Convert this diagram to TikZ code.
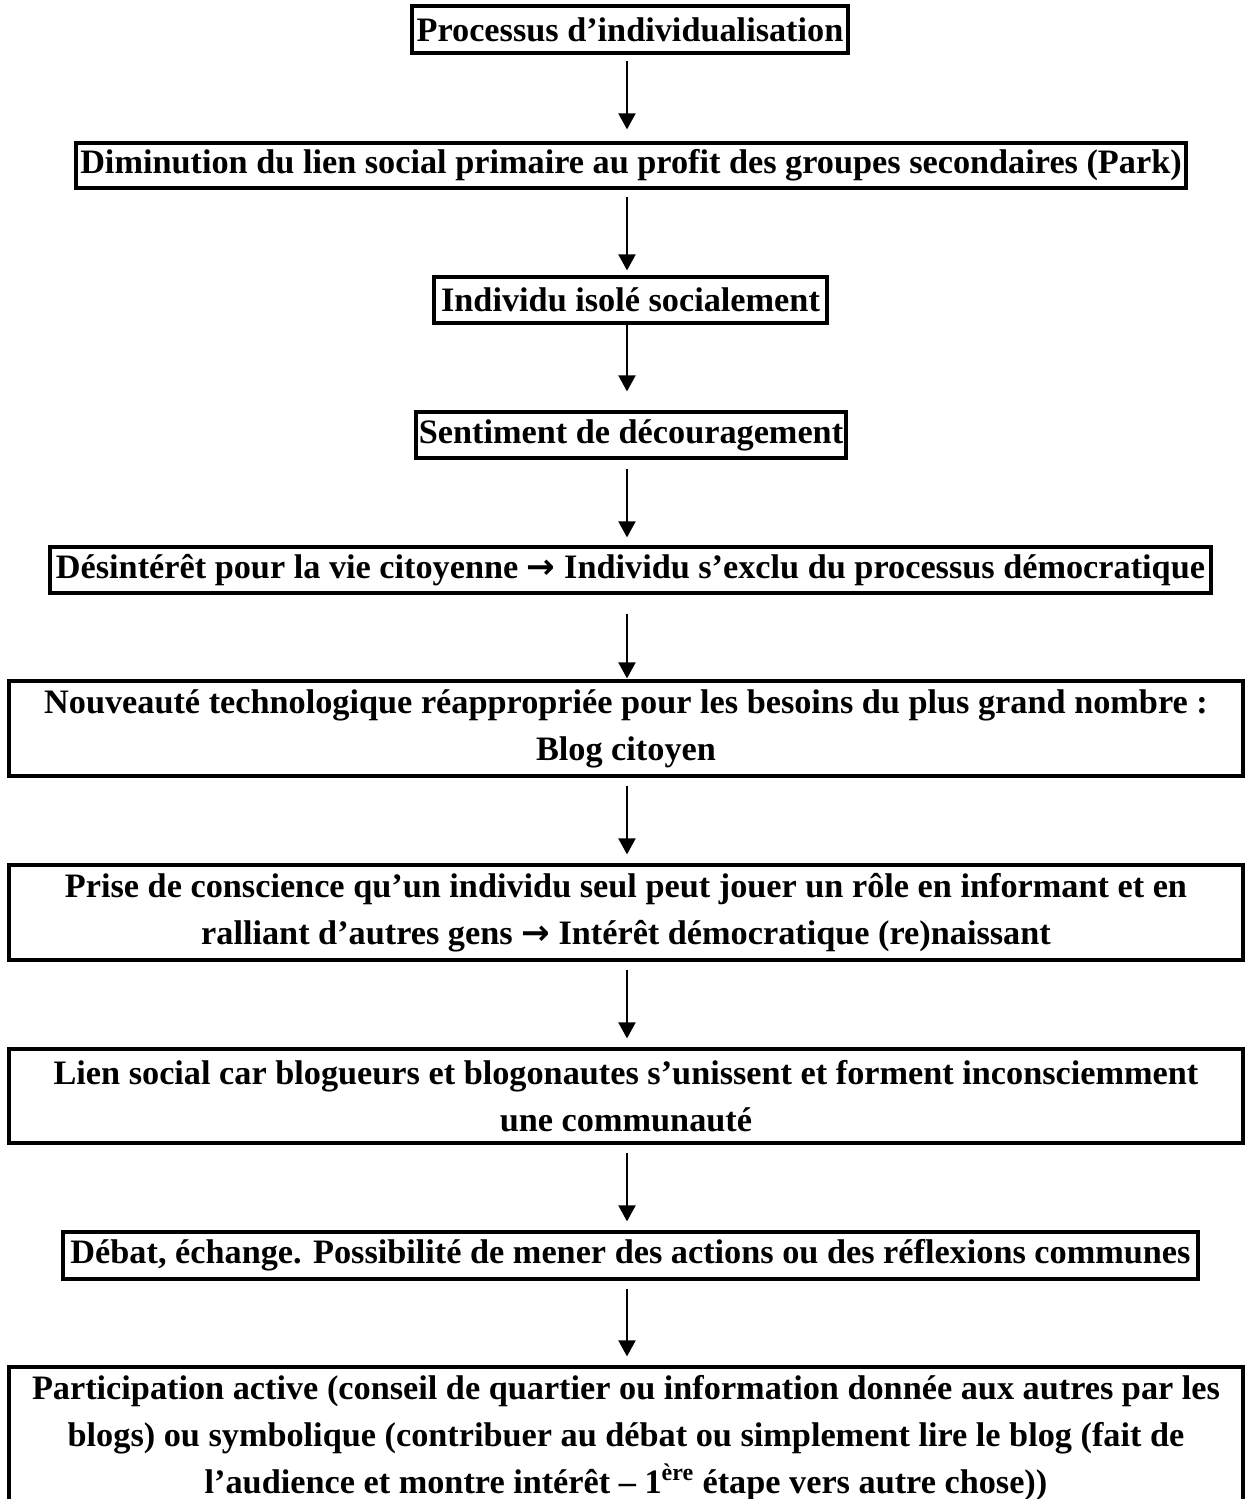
\documentclass[tikz,border=0pt]{standalone}
\usepackage{fontspec}
\setmainfont{Liberation Serif}
\newfontfamily\arrowfont{DejaVu Sans}
\usetikzlibrary{arrows.meta}
\newcommand{\fleche}{{\arrowfont\bfseries →}}

\begin{document}
\begin{tikzpicture}[x=0.02cm, y=-0.02cm,
		etape/.style={draw, line width=0.065cm, inner sep=0pt, align=center,
			font=\bfseries\fontsize{19.5}{26.75}\selectfont},
		lien/.style={line width=0.04cm, -{Triangle[width=0.34cm, length=0.32cm]}}]
			\useasboundingbox (0,0) rectangle (1252,1499);
			\coordinate (axe) at (627,0);

			\node[etape, minimum width=8.72cm, minimum height=0.94cm] (individualisation) at (630,29.5) {Processus d’individualisation};
			\node[etape, minimum width=22.2cm, minimum height=0.9cm] (diminution) at (631,165.5) {Diminution du lien social primaire au profit des groupes secondaires (Park)};
			\node[etape, minimum width=7.86cm, minimum height=0.92cm] (isole) at (630.5,300) {Individu isolé socialement};
			\node[etape, minimum width=8.6cm, minimum height=0.92cm] (decouragement) at (631,435) {Sentiment de découragement};
			\node[etape, minimum width=23.22cm, minimum height=0.92cm] (desinteret) at (630.5,570) {Désintérêt pour la vie citoyenne \fleche{} Individu s’exclu du processus démocratique};
			\node[etape, minimum width=24.68cm, minimum height=1.9cm] (blog) at (626,728.5) {Nouveauté technologique réappropriée pour les besoins du plus grand nombre :\\ Blog citoyen};
			\node[etape, minimum width=24.68cm, minimum height=1.9cm] (conscience) at (626,912.5) {Prise de conscience qu’un individu seul peut jouer un rôle en informant et en\\ ralliant d’autres gens \fleche{} Intérêt démocratique (re)naissant};
			\node[etape, minimum width=24.68cm, minimum height=1.88cm] (communaute) at (626,1096) {Lien social car blogueurs et blogonautes s’unissent et forment inconsciemment\\ une communauté};
			\node[etape, minimum width=22.7cm, minimum height=0.94cm] (debat) at (630.5,1255.5) {Débat, échange. Possibilité de mener des actions ou des réflexions communes};
			% derniere boite coupee en bas de page
			\node[etape, minimum width=24.68cm, minimum height=2.86cm] (participation) at (626,1438.5) {Participation active (conseil de quartier ou information donnée aux autres par les\\ blogs) ou symbolique (contribuer au débat ou simplement lire le blog (fait de\\ l’audience et montre intérêt – 1\textsuperscript{ère} étape vers autre chose))};

			% fleches
			\draw[lien, shorten <=0.12cm, shorten >=0.24cm] (individualisation.south -| axe) -- (diminution.north -| axe);
			\draw[lien, shorten <=0.14cm, shorten >=0.1cm] (diminution.south -| axe) -- (isole.north -| axe);
			\draw[lien, shorten >=0.38cm] (isole.south -| axe) -- (decouragement.north -| axe);
			\draw[lien, shorten <=0.18cm, shorten >=0.16cm] (decouragement.south -| axe) -- (desinteret.north -| axe);
			\draw[lien, shorten <=0.38cm, shorten >=0.02cm] (desinteret.south -| axe) -- (blog.north -| axe);
			\draw[lien, shorten <=0.16cm, shorten >=0.18cm] (blog.south -| axe) -- (conscience.north -| axe);
			\draw[lien, shorten <=0.16cm, shorten >=0.18cm] (conscience.south -| axe) -- (communaute.north -| axe);
			\draw[lien, shorten <=0.16cm, shorten >=0.18cm] (communaute.south -| axe) -- (debat.north -| axe);
			\draw[lien, shorten <=0.16cm, shorten >=0.18cm] (debat.south -| axe) -- (participation.north -| axe);
		\end{tikzpicture}
\end{document}
